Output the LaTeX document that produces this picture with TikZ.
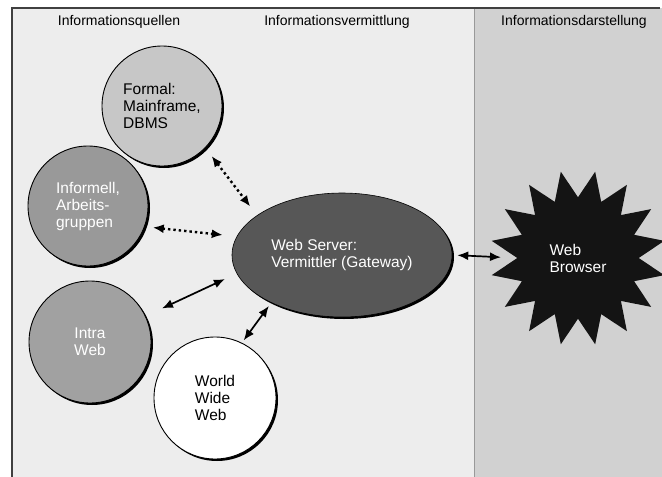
\documentclass[tikz,border=0pt]{standalone}
\usepackage{fontspec}
\setmainfont{Liberation Sans}
\usetikzlibrary{shapes.geometric,arrows.meta,shadows,positioning}

\definecolor{panelhell}{gray}{0.93}
\definecolor{paneldunkel}{gray}{0.82}
\definecolor{formalgrau}{gray}{0.78}
\definecolor{informgrau}{gray}{0.60}
\definecolor{intragrau}{gray}{0.63}
\definecolor{servergrau}{gray}{0.34}

\begin{document}
\begin{tikzpicture}[x=1pt,y=-1pt,
    kopf/.style={font=\fontsize{14}{16}\selectfont},
    quelle/.style={circle, draw=black, line width=0.9pt, minimum size=120pt, inner sep=0pt,
        align=left, font=\fontsize{15.5}{17}\selectfont,
        drop shadow={shadow xshift=2pt, shadow yshift=-2pt, fill=black, opacity=1}},
    pfeil/.style={{Latex[length=11pt,width=9pt]}-{Latex[length=11pt,width=9pt]}, line width=1.7pt},
    punktpfeil/.style={pfeil, line width=2.4pt, dash pattern=on 2.4pt off 3pt}]
    \useasboundingbox (0,0) rectangle (662,477);

    % Hintergrund und Rahmen
    \fill[panelhell] (12,8) rectangle (474,477);
    \fill[paneldunkel] (474,8) rectangle (662,477);
    \draw[gray!80, line width=0.6pt] (474,9) -- (474,477);
    \draw[black!75, line width=1.3pt] (12,477) -- (12,8) -- (660,8);

    % Spaltenköpfe
    \node[kopf] (kquellen) at (119,22) {Informationsquellen};
    \node[kopf] (kvermittl) at (337,22) {Informationsvermittlung};
    \node[kopf] (kdarst) at (574,22) {Informationsdarstellung};

    % Quellen
    \node[quelle, fill=formalgrau] (formal) at (162,106) {Formal:\\Mainframe,\\DBMS};
    \node[quelle, fill=informgrau, text=white] (informell) at (88,206) {Informell,\\Arbeits-\\gruppen};
    \node[quelle, fill=intragrau, text=white, minimum size=122pt, align=center] (intra) at (90,342) {Intra\\Web};
    \node[quelle, fill=white, minimum size=122pt] (www) at (215,398) {World\\Wide\\Web};

    % Vermittler
    \node[ellipse, fill=servergrau, draw=black, line width=0.6pt, minimum width=220pt, minimum height=124pt,
        inner sep=0pt, text=white, align=left, font=\fontsize{15.5}{17}\selectfont,
        drop shadow={shadow xshift=2pt, shadow yshift=-2pt, fill=black, opacity=1}]
        (server) at (342,255) {Web Server:\\Vermittler (Gateway)};

    % Darstellung
    \node[star, star points=16, star point ratio=1.45, shape border rotate=11.25,
        minimum size=176pt, inner sep=0pt, fill=black!92, text=white, align=left,
        font=\fontsize{15.5}{17}\selectfont] (browser) at (578,258) {Web\\Browser};

    % Verbindungen
    \draw[punktpfeil, shorten <=10pt, shorten >=11pt] (formal.-44) -- (server.155);
    \draw[punktpfeil, shorten <=8pt, shorten >=14pt] (informell.-20) -- (server.170);
    \draw[pfeil, shorten <=18pt, shorten >=13pt] (intra.25) -- (server.190);
    \draw[pfeil, shorten <=3pt, shorten >=4pt] (www.64) -- (server.214);
    \draw[pfeil, shorten <=5pt, shorten >=16pt] (server.east) -- (browser.west);
\end{tikzpicture}
\end{document}
